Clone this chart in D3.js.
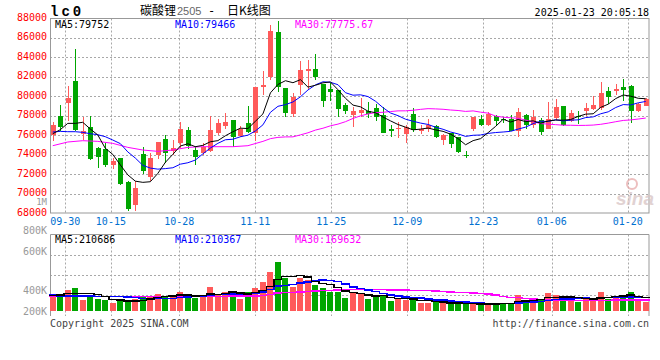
<!DOCTYPE html>
<html><head><meta charset="utf-8">
<script src="https://cdn.jsdelivr.net/npm/d3@7/dist/d3.min.js"></script>
<style>body{margin:0;background:#fff}svg{display:block}</style>
</head><body><svg id="c" width="660" height="360"></svg>
<script>
// ---------- DATA ----------
const dates = ["09-26","09-27","09-30","10-08","10-09","10-10","10-11","10-14","10-15","10-16","10-17","10-18","10-21","10-22","10-23","10-24","10-25","10-28","10-29","10-30","10-31","11-01","11-04","11-05","11-06","11-07","11-08","11-11","11-12","11-13","11-14","11-15","11-18","11-19","11-20","11-21","11-22","11-25","11-26","11-27","11-28","11-29","12-02","12-03","12-04","12-05","12-06","12-09","12-10","12-11","12-12","12-13","12-16","12-17","12-18","12-19","12-20","12-23","12-24","12-25","12-26","12-27","12-30","12-31","01-02","01-03","01-06","01-07","01-08","01-09","01-10","01-13","01-14","01-15","01-16","01-17","01-20","01-21","01-22","01-23"];
const open  = [76052,77971,79341,81569,76120,76874,74681,74578,72967,73653,71185,68855,74064,71700,73927,75571,74338,75229,76497,74475,74132,74407,76188,76942,77560,75914,77217,76257,80918,81946,86607,80849,78176,81123,82631,82837,81260,80712,80643,79136,78108,78313,78450,78793,78039,76600,76668,76120,78176,76394,76668,76942,75503,76189,75846,73961,76668,77628,77011,77971,77628,77628,76394,78108,77011,77560,76668,77765,78965,77491,77971,78519,78724,78793,80507,80507,80918,81055,78519,79000];
const high  = [77354,79067,81021,84859,77834,77971,74818,75160,73653,73653,71254,71322,74818,74200,75350,75983,75503,77354,76874,74886,75160,77971,77697,78245,77560,76942,78999,80987,82631,87292,87703,80849,80301,83660,83728,84345,81260,81397,80643,79273,78930,79821,79410,79205,78861,77011,77354,77011,78793,77011,77628,77011,76120,76189,75846,74338,77902,78039,78382,78039,77902,78108,78793,78176,78587,77765,79410,79753,78965,78587,78519,79342,80027,81466,80918,81260,81809,81123,79273,79821];
const low   = [75366,76394,77491,76394,75503,73481,72624,72761,72556,70911,68238,68169,72008,71300,73584,73104,73995,74681,74612,72899,73995,74270,76052,76600,74818,75777,76189,75366,80096,81672,80438,77834,77834,80164,80712,81672,78930,79547,77903,78176,76805,77834,77765,77491,76223,75846,75709,75229,76326,76120,76326,75709,74955,74681,74132,73653,76463,76942,76942,77011,77285,76463,75846,76600,76737,75983,76668,77560,76942,77354,77148,77971,78587,78587,79204,80096,79479,77217,78382,79000];
const close = [77011,76874,79821,76531,76394,73584,73790,72967,73378,71014,68444,70569,72350,73700,75297,74132,74681,76634,74852,73790,74818,76531,77217,77354,75846,76668,76326,80987,81123,86675,80987,78245,79958,82700,82837,81946,79478,80438,78656,78450,78450,78588,78176,77902,76223,76463,76737,76805,76531,76600,77011,75777,76052,75092,74270,73892,77902,77080,78176,77491,77560,76463,78382,77080,77902,76326,77628,78861,77011,78245,77902,78793,79067,80301,79890,80781,80644,78450,79204,79684];
const volume = [219000,260000,321000,356000,168000,230000,184000,173000,122000,153000,153000,184000,210000,230000,260000,230000,230000,291000,214000,203000,245000,367000,245000,291000,291000,184000,291000,352000,444000,597000,750000,500000,372000,509000,474000,398000,356000,295000,295000,203000,280000,260000,188000,214000,230000,153000,184000,164000,194000,127000,127000,133000,127000,112000,103000,103000,112000,92000,122000,122000,112000,122000,245000,164000,164000,184000,275000,245000,203000,153000,142000,203000,203000,291000,184000,234000,234000,291000,153000,142000];
const ma5Head  = [76154,76565,77217,77217];
const ma10Head = [76326,76394,76360,76360,76291,76154,76052,75846,75503];
const ma30Head = [[0,74921],[2,75300],[4,75435],[6,75366],[8,75160],[10,74749],[12,74475],[14,74338],[16,74475],[18,74749],[20,74818],[24,74818],[26,74921],[28,75366]];
const volMa5Head  = [234000,245000,271000,265000];
const volMa10Head = [255000,230000,228000,230000,230000,228000,226000,225000,222000];
const volMa30Head = [[0,220000],[10,220000],[18,225000],[24,230000],[28,240000]];
const priceTicks = [68000,70000,72000,74000,76000,78000,80000,82000,84000,86000,88000];
const dateTicks = ["09-30","10-15","10-28","11-11","11-25","12-09","12-23","01-06","01-20"];
const volTickLabels = ["1M","800K","600K","400K","200K"];
const priceMaLabels = ["MA5:79752","MA10:79466","MA30:77775.67"];
const volMaLabels = ["MA5:210686","MA10:210367","MA30:169632"];
const symbol = "lc0";
const titleParts = ["碳酸锂","2505","-","日K线图"];
const stamp = "2025-01-23 20:05:18";

// ---------- LAYOUT ----------
const L = 50, R = 649.5;
const PT = 18.5, PB = 213;
const VT = 234.5, VB = 311, VBorder = 316;
const UP = "#ff5a5a", DOWN = "#00a600", GRID = "#a8a8a8";
const MA_COLORS = ["#000000","#0000ff","#ff00ff"];
const MONO = "'DejaVu Sans Mono', monospace";
const volLabelY = [205, 233.5, 254.5, 294, 314.5];

const svg = d3.select("#c");
const n = close.length;
const x = d3.scaleBand().domain(d3.range(n)).range([49, R]).padding(0);
const cx = i => x(i) + x.bandwidth() / 2;
const xGrid = d3.scaleLinear().domain([0, n - 1]).range([50.1, 650.5]);
const yP = d3.scaleLinear().domain([68000, 88000]).range([PB, PT]);
const yV = d3.scaleLinear().domain([0, 1173000]).range([VB, VT]);

function maPairs(vals, k, head) {
  const pts = [];
  if (head.length && Array.isArray(head[0])) head.forEach(d => pts.push([d[0], d[1]]));
  else head.forEach((v, i) => pts.push([i, v]));
  for (let i = k - 1; i < vals.length; i++) pts.push([i, d3.mean(vals.slice(i - k + 1, i + 1))]);
  return pts;
}

// ---------- GRID ----------
const g = svg.append("g");
priceTicks.slice(1, -1).forEach(p => {
  const yy = Math.round(yP(p)) + 0.5;
  g.append("line").attr("x1", L).attr("x2", R).attr("y1", yy).attr("y2", yy)
    .attr("stroke", GRID).attr("stroke-dasharray", "2,2");
});
[255.5, 275.5, 295.5].forEach(yy => {
  g.append("line").attr("x1", L).attr("x2", R).attr("y1", yy).attr("y2", yy)
    .attr("stroke", GRID).attr("stroke-dasharray", "2,2");
});
dateTicks.forEach(dt => {
  const i = dates.indexOf(dt);
  const xx = Math.round(xGrid(i)) + 0.5;
  g.append("line").attr("x1", xx).attr("x2", xx).attr("y1", PT).attr("y2", PB)
    .attr("stroke", GRID).attr("stroke-dasharray", "2,2");
  g.append("line").attr("x1", xx).attr("x2", xx).attr("y1", VT).attr("y2", VBorder)
    .attr("stroke", GRID).attr("stroke-dasharray", "2,2");
  svg.append("text").attr("x", xGrid(i)).attr("y", 224.5).attr("text-anchor", "middle")
    .attr("font-family", MONO).attr("font-size", 10).attr("fill", "#0070d0").text(dt);
});

// borders
svg.append("rect").attr("x", L + 0.5).attr("y", PT).attr("width", R - L - 1).attr("height", PB - PT)
  .attr("fill", "none").attr("stroke", "#999");
svg.append("path").attr("d", `M${L+0.5},${VBorder}V${VT}H${R-0.5}V${VBorder}`)
  .attr("fill", "none").attr("stroke", "#999");

// watermark
const wm = svg.append("g").attr("opacity", 0.75);
wm.append("circle").attr("cx", 632).attr("cy", 184).attr("r", 5).attr("fill", "none").attr("stroke", "#e8aaaa").attr("stroke-width", 2);
wm.append("text").attr("x", 616).attr("y", 205).attr("font-family", "'Liberation Sans', Arial").attr("font-weight", "bold")
  .attr("font-style", "italic").attr("font-size", 19).attr("fill", "#d8c4c4").text("sina");

// ---------- CANDLES ----------
const cg = svg.append("g").attr("shape-rendering", "crispEdges");
for (let i = 0; i < n; i++) {
  const up = close[i] >= open[i];
  const col = up ? UP : DOWN;
  const c = Math.round(cx(i));
  cg.append("line").attr("x1", c + 0.5).attr("x2", c + 0.5).attr("y1", yP(high[i])).attr("y2", yP(low[i])).attr("stroke", col);
  const top = yP(Math.max(open[i], close[i])), bot = yP(Math.min(open[i], close[i]));
  cg.append("rect").attr("x", c - 2).attr("y", top).attr("width", 5).attr("height", Math.max(1, bot - top)).attr("fill", col);
  const vy = yV(volume[i]);
  cg.append("rect").attr("x", Math.round(cx(i) - 3)).attr("y", vy).attr("width", 6).attr("height", VB - vy).attr("fill", col);
}

// ---------- MA LINES ----------
const priceLine = d3.line().x(d => cx(d[0])).y(d => yP(d[1]));
[maPairs(close, 5, ma5Head), maPairs(close, 10, ma10Head), maPairs(close, 30, ma30Head)].reverse().forEach((pts, j) => {
  svg.append("path").attr("d", priceLine(pts)).attr("fill", "none").attr("stroke", MA_COLORS[2 - j]).attr("stroke-width", 1);
});
const volLine = d3.line().x(d => d[0]).y(d => yV(d[1])).curve(d3.curveStepAfter);
[maPairs(volume, 5, volMa5Head), maPairs(volume, 10, volMa10Head), maPairs(volume, 30, volMa30Head)].reverse().forEach((pts, j) => {
  const sp = pts.map(d => [x(d[0]), d[1]]);
  const last = pts[pts.length - 1];
  sp.push([x(last[0]) + x.step(), last[1]]);
  svg.append("path").attr("d", volLine(sp)).attr("fill", "none").attr("stroke", MA_COLORS[2 - j])
    .attr("stroke-width", 1.5).attr("shape-rendering", "crispEdges");
});

// ---------- TEXT ----------
priceTicks.forEach(p => {
  svg.append("text").attr("x", 47).attr("y", yP(p) + 2.5).attr("text-anchor", "end")
    .attr("font-family", MONO).attr("font-size", 10).attr("fill", "#ff0000").text(p);
});
volTickLabels.forEach((t, k) => {
  svg.append("text").attr("x", 47).attr("y", volLabelY[k]).attr("text-anchor", "end")
    .attr("font-family", MONO).attr("font-size", k === 0 ? 9 : 10).attr("fill", "#999").text(t);
});
const maX = [55, 175, 295];
priceMaLabels.forEach((t, k) => {
  svg.append("text").attr("x", maX[k]).attr("y", 27.5).attr("font-family", MONO).attr("font-size", 10)
    .attr("fill", MA_COLORS[k]).text(t);
});
volMaLabels.forEach((t, k) => {
  svg.append("text").attr("x", maX[k]).attr("y", 242.5).attr("font-family", MONO).attr("font-size", 10)
    .attr("fill", MA_COLORS[k]).text(t);
});
svg.append("text").attr("x", 50).attr("y", 15.5).attr("font-family", "'Liberation Mono', monospace").attr("font-weight", "bold")
  .attr("font-size", 14).attr("letter-spacing", 3).attr("fill", "#000").text(symbol);
const CJK = "'Noto Sans CJK SC', sans-serif";
svg.append("text").attr("x", 140).attr("y", 15).attr("font-family", CJK).attr("font-size", 12).attr("fill", "#000").text(titleParts[0]);
svg.append("text").attr("x", 177).attr("y", 15).attr("font-family", "'Liberation Sans', Arial").attr("font-size", 11).attr("fill", "#666").text(titleParts[1]);
svg.append("text").attr("x", 208).attr("y", 15).attr("font-family", MONO).attr("font-size", 12).attr("fill", "#000").text(titleParts[2]);
svg.append("text").attr("x", 227).attr("y", 15).attr("font-family", CJK).attr("font-size", 12).attr("fill", "#000").text(titleParts[3]);
svg.append("text").attr("x", 649).attr("y", 15.5).attr("text-anchor", "end").attr("font-family", MONO).attr("font-size", 10).attr("fill", "#000").text(stamp);
svg.append("text").attr("x", 50).attr("y", 327).attr("font-family", MONO).attr("font-size", 10).attr("fill", "#444").text("Copyright 2025 SINA.COM");
svg.append("text").attr("x", 649).attr("y", 327).attr("text-anchor", "end").attr("font-family", MONO).attr("font-size", 10).attr("fill", "#444").text("http://finance.sina.com.cn");
</script></body></html>
